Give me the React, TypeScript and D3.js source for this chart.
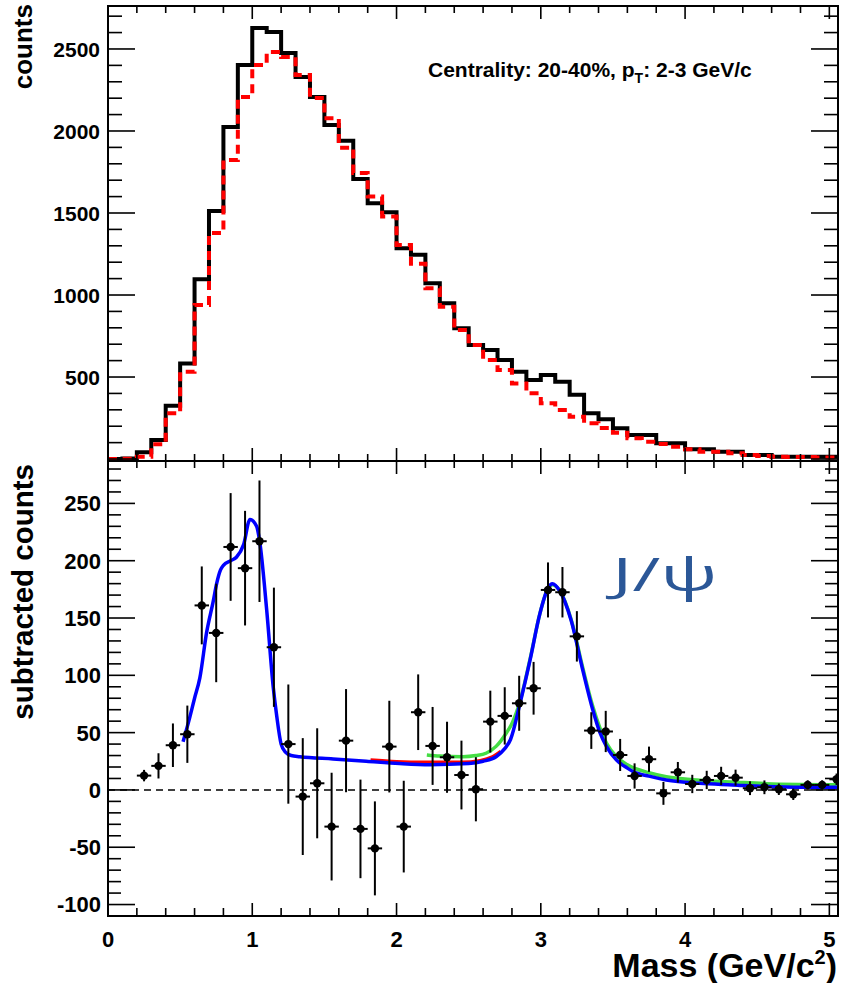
import React from 'react';
import * as d3 from 'd3';

// ---- Top panel: same-event (black) and mixed-event (red) pair mass, 0.1 GeV bins from 0 ----
const BIN_WIDTH = 0.1;
const sameEventCounts = [
  0, 4, 41, 116, 325, 583, 1096, 1512, 2024, 2402,
  2628, 2604, 2476, 2329, 2207, 2037, 1941, 1707, 1559, 1505,
  1285, 1246, 1071, 949, 797, 695, 665, 604, 532, 482,
  512, 471, 392, 279, 242, 187, 146, 146, 96, 96,
  59, 59, 45, 45, 24, 24, 14, 14, 14, 14, 14,
];
const mixedEventCounts = [
  0, 2, 14, 90, 279, 532, 939, 1378, 1823, 2207,
  2402, 2482, 2451, 2341, 2201, 2077, 1898, 1744, 1600, 1478,
  1305, 1190, 1041, 929, 787, 695, 604, 543, 461, 401,
  340, 299, 258, 218, 189, 160, 126, 106, 91, 75,
  59, 45, 45, 35, 24, 18, 14, 12, 12, 10, 10,
];

// ---- Bottom panel: subtracted counts with statistical errors ----
const pointMass = [
  0.25, 0.35, 0.45, 0.55, 0.65, 0.75, 0.85, 0.95, 1.05, 1.15,
  1.25, 1.35, 1.45, 1.55, 1.65, 1.75, 1.85, 1.95, 2.05, 2.15,
  2.25, 2.35, 2.45, 2.55, 2.65, 2.75, 2.85, 2.95, 3.05, 3.15,
  3.25, 3.35, 3.45, 3.55, 3.65, 3.75, 3.85, 3.95, 4.05, 4.15,
  4.25, 4.35, 4.45, 4.55, 4.65, 4.75, 4.85, 4.95, 5.05,
];
const pointCounts = [
  12.5, 21, 39, 48.6, 161, 137, 212, 193.5, 217, 124.5,
  40, -5.8, 5.8, -32, 43, -34, -51, 37.8, -32, 67.8,
  38.4, 28.5, 13, 0.6, 59.6, 64.6, 75.6, 88.7, 174.5, 172.5,
  134, 51.8, 51, 30.5, 12.2, 26.8, -3, 15.4, 5.2, 8.7,
  12.2, 10.7, 1.5, 2.3, 0.6, -3.8, 4.4, 4.4, 9.3,
];
const pointErrors = [
  5, 11, 19, 25, 34, 43, 47, 50, 53, 52,
  52, 51, 48, 47, 45, 43, 41, 40, 40, 33,
  34, 31, 30, 28, 27, 25, 24, 23, 24, 22,
  22, 16, 18, 14, 11, 11, 10, 9, 8, 8,
  8, 7, 6, 6, 5, 5, 4, 4, 5,
];

// ---- Fit curves (mass, counts) ----
const fitTotal: [number, number][] = [
  [0.52, 42], [0.56, 60], [0.6, 80], [0.637, 98], [0.683, 137], [0.73, 165],
  [0.753, 180], [0.78, 192], [0.8, 196], [0.85, 200], [0.89, 203], [0.94, 214],
  [0.984, 236], [1.03, 230], [1.05, 218], [1.1, 157], [1.145, 90], [1.17, 64],
  [1.2, 40], [1.23, 33], [1.27, 30], [1.33, 29], [1.56, 27], [1.79, 25],
  [2.02, 23], [2.23, 22], [2.5, 23], [2.6, 25], [2.69, 29], [2.75, 36],
  [2.79, 44], [2.855, 75], [2.925, 113], [2.994, 154], [3.05, 176], [3.08, 180],
  [3.13, 174], [3.21, 148], [3.29, 105], [3.36, 70], [3.41, 50], [3.455, 38],
  [3.525, 26], [3.6, 19], [3.64, 16], [3.75, 12], [3.87, 8.7], [4.1, 5.8],
  [4.33, 4.4], [4.56, 3], [4.8, 2.3], [5.07, 2.3],
];
const fitAlternative: [number, number][] = [
  [2.21, 30.5], [2.3, 29.5], [2.46, 29], [2.55, 30], [2.62, 32], [2.69, 38],
  [2.76, 49.5], [2.8, 58], [2.855, 77], [2.925, 114], [2.994, 154], [3.05, 176],
  [3.08, 179], [3.13, 174], [3.21, 149], [3.29, 107], [3.36, 73], [3.455, 41],
  [3.525, 29], [3.6, 22], [3.75, 15], [3.87, 11.5], [4.1, 8.5], [4.33, 7],
  [4.56, 5.5], [4.8, 4.8], [5.07, 4.5],
];
const fitBackgroundOnly: [number, number][] = [
  [1.82, 26.5], [2.0, 25], [2.2, 24.5], [2.45, 24.5], [2.58, 26], [2.66, 29], [2.72, 34],
];

const topTickLabels = [500, 1000, 1500, 2000, 2500];
const bottomTickLabels = [-100, -50, 0, 50, 100, 150, 200, 250];
const massTickLabels = [0, 1, 2, 3, 4, 5];

const FONT = '"Liberation Sans", Arial, Helvetica, sans-serif';

const X0 = 108;
const X1 = 838;
const TOP_Y0 = 6;
const MID_Y = 461;
const BOT_Y1 = 916;

export default function App() {
  const x = d3.scaleLinear().domain([0, 5.06]).range([X0, X1]);
  const yTop = d3.scaleLinear().domain([-12, 2762]).range([MID_Y, TOP_Y0]);
  const yBot = d3.scaleLinear().domain([-110, 287]).range([BOT_Y1, MID_Y]);

  const histLine = d3
    .line<[number, number]>()
    .x((d) => x(d[0]))
    .y((d) => yTop(d[1]))
    .curve(d3.curveStepAfter);
  const histPoints = (vals: number[]): [number, number][] => {
    const pts: [number, number][] = vals.map((v, i) => [i * BIN_WIDTH, v]);
    pts.push([vals.length * BIN_WIDTH, vals[vals.length - 1]]);
    return pts;
  };

  const fitLine = d3
    .line<[number, number]>()
    .x((d) => x(d[0]))
    .y((d) => yBot(d[1]))
    .curve(d3.curveMonotoneX);

  const eps = 1e-6;
  const minorX = d3.range(0, 5.06 + eps, 0.2);
  const minorYTop = d3.range(0, 2762, 100);
  const minorYBot = d3.range(-110, 287, 10);

  const tickStroke = { stroke: '#000', strokeWidth: 1.6 };

  return (
    <svg
      width={841}
      height={983}
      style={{ position: 'absolute', left: 0, top: 0, background: '#fff' }}
      fontFamily={FONT}
    >
      <defs>
        <clipPath id="clipTop">
          <rect x={X0} y={TOP_Y0} width={X1 - X0} height={MID_Y - TOP_Y0} />
        </clipPath>
        <clipPath id="clipBot">
          <rect x={X0} y={MID_Y} width={X1 - X0} height={BOT_Y1 - MID_Y} />
        </clipPath>
      </defs>
      <rect x={0} y={0} width={841} height={983} fill="#fff" />

      {/* ---------- top panel ---------- */}
      <g clipPath="url(#clipTop)">
        <path d={histLine(histPoints(sameEventCounts)) || ''} fill="none" stroke="#000" strokeWidth={4} />
        <path
          d={histLine(histPoints(mixedEventCounts)) || ''}
          fill="none"
          stroke="#ff0000"
          strokeWidth={4}
          strokeDasharray="9,6"
        />
      </g>

      {/* top panel ticks */}
      <g {...tickStroke}>
        {minorYTop.map((v) => (
          <g key={'tyl' + v}>
            <line x1={X0} x2={X0 + (v % 500 === 0 ? 27 : 14)} y1={yTop(v)} y2={yTop(v)} />
            <line x1={X1} x2={X1 - (v % 500 === 0 ? 27 : 14)} y1={yTop(v)} y2={yTop(v)} />
          </g>
        ))}
        {minorX.map((m, i) => {
          const major = i % 5 === 0;
          return (
            <g key={'txt' + i}>
              <line x1={x(m)} x2={x(m)} y1={TOP_Y0} y2={TOP_Y0 + (major ? 13 : 7)} />
              <line x1={x(m)} x2={x(m)} y1={MID_Y} y2={MID_Y - (major ? 13 : 7)} />
            </g>
          );
        })}
      </g>
      {topTickLabels.map((v) => (
        <text key={'tl' + v} x={100} y={yTop(v)} dy="0.36em" textAnchor="end" fontSize={21} fontWeight="bold">
          {v}
        </text>
      ))}
      <text x={428} y={77} fontSize={21} fontWeight="bold">
        Centrality: 20-40%, p
        <tspan fontSize={14} dy={6}>T</tspan>
        <tspan dy={-6}>: 2-3 GeV/c</tspan>
      </text>
      <text transform="translate(32,4) rotate(-90)" textAnchor="end" fontSize={26} fontWeight="bold">
        counts
      </text>

      {/* ---------- bottom panel ---------- */}
      <g clipPath="url(#clipBot)">
        <line x1={X0} x2={X1} y1={yBot(0)} y2={yBot(0)} stroke="#000" strokeWidth={1.5} strokeDasharray="7,5" />
        <path d={fitLine(fitAlternative) || ''} fill="none" stroke="#44dd44" strokeWidth={3.5} />
        <path d={fitLine(fitBackgroundOnly) || ''} fill="none" stroke="#ff0000" strokeWidth={2.5} />
        <path d={fitLine(fitTotal) || ''} fill="none" stroke="#0000ff" strokeWidth={3.5} />
        {pointMass.map((m, i) => {
          const v = pointCounts[i];
          const e = pointErrors[i];
          return (
            <g key={'p' + i} stroke="#000" strokeWidth={2}>
              <line x1={x(m)} x2={x(m)} y1={yBot(v - e)} y2={yBot(v + e)} />
              <line x1={x(m - 0.05)} x2={x(m + 0.05)} y1={yBot(v)} y2={yBot(v)} />
              <circle cx={x(m)} cy={yBot(v)} r={4.2} fill="#000" stroke="none" />
            </g>
          );
        })}
      </g>

      {/* bottom panel ticks */}
      <g {...tickStroke}>
        {minorYBot.map((v) => {
          const major = v % 50 === 0;
          return (
            <g key={'byl' + v}>
              <line x1={X0} x2={X0 + (major ? 27 : 13)} y1={yBot(v)} y2={yBot(v)} />
              <line x1={X1} x2={X1 - (major ? 27 : 13)} y1={yBot(v)} y2={yBot(v)} />
            </g>
          );
        })}
        {minorX.map((m, i) => {
          const major = i % 5 === 0;
          return (
            <g key={'bxt' + i}>
              <line x1={x(m)} x2={x(m)} y1={MID_Y} y2={MID_Y + (major ? 13 : 7)} />
              <line x1={x(m)} x2={x(m)} y1={BOT_Y1} y2={BOT_Y1 - (major ? 13 : 8)} />
            </g>
          );
        })}
      </g>
      {bottomTickLabels.map((v) => (
        <text key={'bl' + v} x={101} y={yBot(v)} dy="0.36em" textAnchor="end" fontSize={22} fontWeight="bold">
          {v}
        </text>
      ))}
      {massTickLabels.map((m) => (
        <text key={'ml' + m} x={x(m)} y={947} textAnchor="middle" fontSize={22} fontWeight="bold">
          {m}
        </text>
      ))}
      <text transform="translate(33,464) rotate(-90)" textAnchor="end" fontSize={29.5} fontWeight="bold">
        subtracted counts
      </text>
      <text x={837} y={977} textAnchor="end" fontSize={34} fontWeight="bold">
        Mass (GeV/c
        <tspan fontSize={20} dy={-13}>2</tspan>
        <tspan dy={13}>)</tspan>
      </text>
      <text
        transform="translate(612,591) scale(1.65,1)"
        fontSize={46}
        fill="#2b5797"
        fontFamily='"Open Sans", "DejaVu Sans", sans-serif'
      >
        J/ψ
      </text>

      {/* frames */}
      <rect x={X0} y={TOP_Y0} width={X1 - X0} height={MID_Y - TOP_Y0} fill="none" stroke="#000" strokeWidth={2} />
      <rect x={X0} y={MID_Y} width={X1 - X0} height={BOT_Y1 - MID_Y} fill="none" stroke="#000" strokeWidth={2} />
    </svg>
  );
}
